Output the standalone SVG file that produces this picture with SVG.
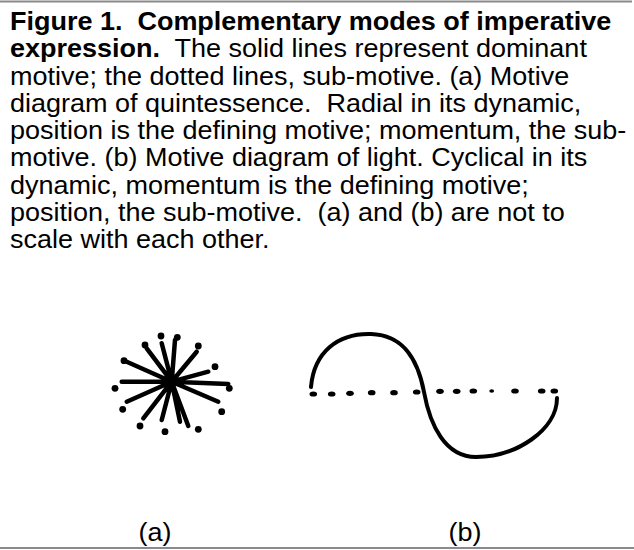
<svg xmlns="http://www.w3.org/2000/svg" width="634" height="550" viewBox="0 0 634 550">
<style>
.t{font-family:"Liberation Sans",Arial,sans-serif;font-size:25px;fill:#000;white-space:pre}
.b{font-weight:bold}
.ray{stroke:#000;stroke-width:4.5;stroke-linecap:round;fill:none}
.wave{stroke:#000;stroke-width:4;stroke-linecap:round;fill:none}
.dot{fill:#000}
.rule{stroke:#8a8a8a;stroke-width:2}
</style>
<rect width="634" height="550" fill="#fff"/>
<line class="rule" x1="0" y1="1.5" x2="632" y2="1.5"/>
<line class="rule" x1="0" y1="548" x2="634" y2="548"/>
<g id="caption" transform="scale(1.08 1)">
<text class="t" x="9.26" y="30"><tspan class="b">Figure 1.  Complementary modes of imperative</tspan></text>
<text class="t" x="9.26" y="57.3"><tspan class="b">expression.</tspan>  The solid lines represent dominant</text>
<text class="t" x="9.26" y="84.6">motive; the dotted lines, sub-motive. (a) Motive</text>
<text class="t" x="9.26" y="111.9">diagram of quintessence.  Radial in its dynamic,</text>
<text class="t" x="9.26" y="139.2">position is the defining motive; momentum, the sub-</text>
<text class="t" x="9.26" y="166.5">motive. (b) Motive diagram of light. Cyclical in its</text>
<text class="t" x="9.26" y="193.8">dynamic, momentum is the defining motive;</text>
<text class="t" x="9.26" y="221.1">position, the sub-motive.  (a) and (b) are not to</text>
<text class="t" x="9.26" y="248.4">scale with each other.</text>
</g>
<g id="diagram-a">
<g class="rays">
<path class="ray" d="M171.7 381.7L175 340M171.7 381.7L161.7 343.3M171.7 381.7L146.7 348.3M171.7 381.7L196.7 351.7M171.7 381.7L126.7 361.7M171.7 381.7L208.3 371.7M171.7 381.7L121.7 381.7M171.7 381.7L228.3 384M171.7 381.7L126.7 401.7M171.7 381.7L218.3 401.7M171.7 381.7L143.3 418.3M171.7 381.7L161.7 420M171.7 381.7L188.3 426M171.7 381.7L180 421.7"/>
</g>
<g class="dots">
<circle class="dot" cx="161" cy="336" r="3.4"/>
<circle class="dot" cx="177.3" cy="337.3" r="3.4"/>
<circle class="dot" cx="145" cy="345" r="3.4"/>
<circle class="dot" cx="198.3" cy="346" r="3.4"/>
<circle class="dot" cx="124" cy="360.7" r="3.4"/>
<circle class="dot" cx="215" cy="366.7" r="3.4"/>
<circle class="dot" cx="115" cy="388.3" r="3.4"/>
<circle class="dot" cx="229.3" cy="388.3" r="3.4"/>
<circle class="dot" cx="122.7" cy="409.3" r="3.4"/>
<circle class="dot" cx="221.7" cy="411.7" r="3.4"/>
<circle class="dot" cx="140" cy="426" r="3.4"/>
<circle class="dot" cx="165" cy="431.7" r="3.4"/>
<circle class="dot" cx="198.3" cy="429.3" r="3.4"/>
</g>
</g>
<g id="diagram-b">
<path class="wave" d="M311 387C314 352 338 333 371 334C404 335 418 360 424 392C430 425 445 457 476 457C516 457 557 430 557 398"/>
<g class="dots">
<ellipse class="dot" cx="313.3" cy="394" rx="3.8" ry="2.6"/>
<ellipse class="dot" cx="331.7" cy="394" rx="3.8" ry="2.6"/>
<ellipse class="dot" cx="350" cy="393.3" rx="3.8" ry="2.6"/>
<ellipse class="dot" cx="371.7" cy="392.7" rx="3.8" ry="2.6"/>
<ellipse class="dot" cx="394" cy="392.7" rx="3.8" ry="2.6"/>
<ellipse class="dot" cx="416.7" cy="392" rx="3.8" ry="2.6"/>
<ellipse class="dot" cx="440" cy="391.3" rx="3.8" ry="2.6"/>
<ellipse class="dot" cx="456.7" cy="391.3" rx="3.8" ry="2.6"/>
<ellipse class="dot" cx="473.3" cy="391" rx="3.8" ry="2.6"/>
<ellipse class="dot" cx="491.7" cy="391" rx="2.4" ry="1.8"/>
<ellipse class="dot" cx="515" cy="391" rx="3.8" ry="2.6"/>
<ellipse class="dot" cx="541.7" cy="391" rx="3.8" ry="2.6"/>
<ellipse class="dot" cx="554.3" cy="391" rx="3.8" ry="2.6"/>
</g>
</g>
<g id="labels" transform="scale(1.08 1)">
<text class="t" x="143.5" y="541" text-anchor="middle">(a)</text>
<text class="t" x="430.6" y="541" text-anchor="middle">(b)</text>
</g>
</svg>
